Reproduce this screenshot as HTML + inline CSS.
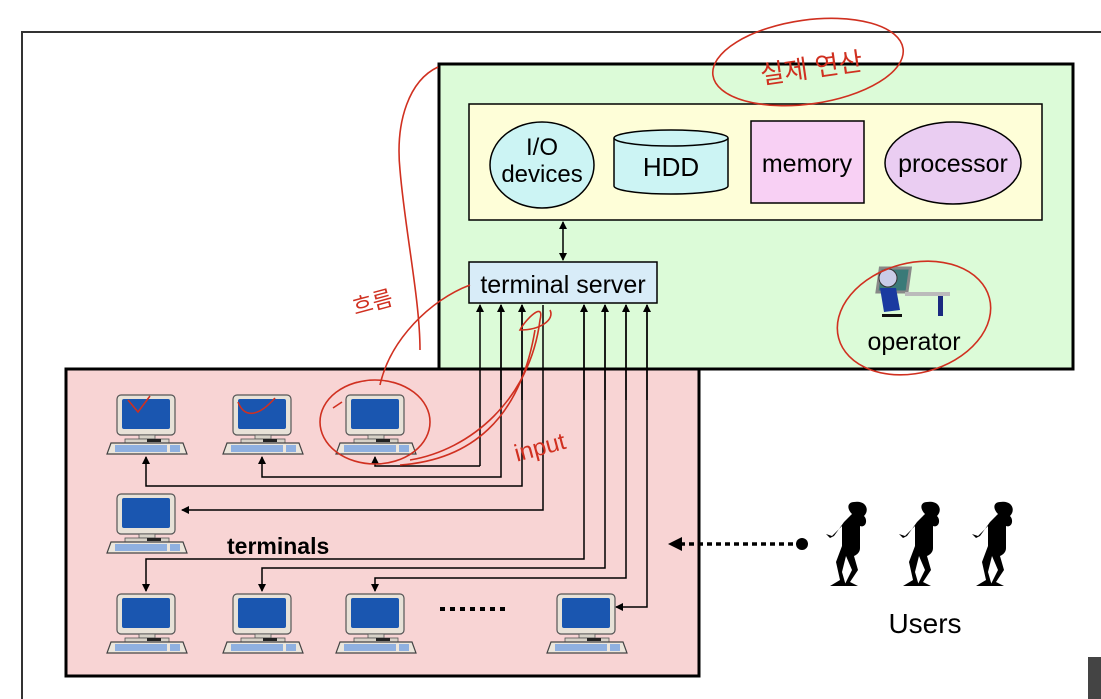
<!DOCTYPE html>
<html><head><meta charset="utf-8"><style>
html,body{margin:0;padding:0;background:#fff;}
svg{display:block;}
text{font-family:"Liberation Sans","Noto Sans CJK KR",sans-serif;}
</style></head><body>
<svg width="1101" height="699" viewBox="0 0 1101 699" xmlns="http://www.w3.org/2000/svg">
<defs>
<marker id="ah" markerWidth="8" markerHeight="8" refX="7" refY="4" orient="auto" markerUnits="userSpaceOnUse">
<path d="M0,0 L8,4 L0,8 z" fill="#000"/></marker>
<marker id="ah2" markerWidth="8" markerHeight="8" refX="1" refY="4" orient="auto" markerUnits="userSpaceOnUse">
<path d="M8,0 L0,4 L8,8 z" fill="#000"/></marker>
<symbol id="pc" viewBox="0 0 84 62">
<rect x="12" y="1" width="58" height="40" rx="4" fill="#e8e2d8" stroke="#555" stroke-width="1.2"/>
<rect x="17" y="5" width="48" height="30" rx="2" fill="#1a56b0"/>
<rect x="34" y="41" width="16" height="4" fill="#d8d2c8" stroke="#555" stroke-width="0.8"/>
<rect x="20" y="45" width="44" height="4" fill="#d8d2c8" stroke="#555" stroke-width="0.8"/>
<rect x="42" y="45" width="14" height="3" fill="#222"/>
<path d="M6,49 L78,49 L82,60 L2,60 z" fill="#ece6dc" stroke="#444" stroke-width="1.2"/>
<rect x="10" y="51" width="52" height="7" fill="#8fb0e0"/>
<rect x="65" y="51" width="10" height="7" fill="#8fb0e0"/>
</symbol>
<symbol id="user" viewBox="0 0 60 90">
<path d="M30,2 C42,0 46,10 40,16 C44,20 42,28 36,26 L36,48 C36,54 30,56 30,56 L34,70 L26,82 L34,86 L20,86 L28,70 L22,56 L18,72 L22,86 L6,86 L16,80 L12,62 L18,46 L18,26 L8,36 L2,34 L6,38 L10,36 L20,22 C24,18 26,16 28,14 C22,8 24,2 30,2 z" fill="#000"/>
</symbol>
</defs>

<!-- outer frame -->
<path d="M22,699 L22,32 L1101,32" fill="none" stroke="#333" stroke-width="2"/>

<!-- green box -->
<rect x="439" y="64" width="634" height="305" fill="#dcfbd8" stroke="#000" stroke-width="3"/>
<rect x="469" y="104" width="573" height="116" fill="#fefed8" stroke="#000" stroke-width="1.5"/>
<ellipse cx="542" cy="165" rx="52" ry="43" fill="#ccf4f4" stroke="#000" stroke-width="1.5"/>
<text x="542" y="155" font-size="24" text-anchor="middle">I/O</text>
<text x="542" y="182" font-size="24" text-anchor="middle">devices</text>
<path d="M614,138 L614,186 A57,8 0 0 0 728,186 L728,138" fill="#ccf4f4" stroke="#000" stroke-width="1.5"/>
<ellipse cx="671" cy="138" rx="57" ry="8" fill="#ccf4f4" stroke="#000" stroke-width="1.5"/>
<text x="671" y="176" font-size="26" text-anchor="middle">HDD</text>
<rect x="751" y="121" width="113" height="82" fill="#f8d0f4" stroke="#000" stroke-width="1.5"/>
<text x="807" y="172" font-size="25" text-anchor="middle">memory</text>
<ellipse cx="953" cy="163" rx="68" ry="41" fill="#eacdf2" stroke="#000" stroke-width="1.5"/>
<text x="953" y="172" font-size="25" text-anchor="middle">processor</text>

<line x1="563" y1="222" x2="563" y2="260" stroke="#000" stroke-width="1.5" marker-start="url(#ah2)" marker-end="url(#ah)"/>
<rect x="469" y="262" width="188" height="41" fill="#d8ecf8" stroke="#000" stroke-width="1.5"/>
<text x="563" y="293" font-size="25" text-anchor="middle">terminal server</text>

<!-- operator -->
<g>
<rect x="918" y="268" width="30" height="24" fill="#3a7a78" stroke="#888" stroke-width="3" transform="skewX(-8)"/>
<rect x="905" y="292" width="45" height="4" fill="#bbb"/>
<rect x="938" y="296" width="5" height="20" fill="#1a2a80"/>
<circle cx="888" cy="278" r="9" fill="#c8cce8" stroke="#333"/>
<path d="M880,288 L896,288 L900,310 L884,312 z" fill="#1a3aa0"/>
<rect x="882" y="314" width="20" height="3" fill="#111"/>
</g>
<text x="914" y="350" font-size="25" text-anchor="middle">operator</text>

<!-- red box -->
<rect x="66" y="369" width="633" height="307" fill="#f8d4d4" stroke="#000" stroke-width="3"/>

<!-- connectors -->
<g fill="none" stroke="#000" stroke-width="1.5">
<path d="M480,466 L480,305" marker-end="url(#ah)"/>
<path d="M480,466 L375,466 L375,457" marker-end="url(#ah)"/>
<path d="M501,305 L501,477 L262,477 L262,457" marker-end="url(#ah)"/>
<line x1="501" y1="400" x2="501" y2="305" marker-end="url(#ah)"/>
<path d="M522,305 L522,486 L146,486 L146,457" marker-end="url(#ah)"/>
<line x1="522" y1="400" x2="522" y2="305" marker-end="url(#ah)"/>
<path d="M543,305 L543,510 L182,510" marker-end="url(#ah)"/>
<path d="M584,305 L584,559 L146,559 L146,591" marker-end="url(#ah)"/>
<line x1="584" y1="400" x2="584" y2="305" marker-end="url(#ah)"/>
<path d="M605,305 L605,568 L262,568 L262,591" marker-end="url(#ah)"/>
<line x1="605" y1="400" x2="605" y2="305" marker-end="url(#ah)"/>
<path d="M626,305 L626,578 L375,578 L375,591" marker-end="url(#ah)"/>
<line x1="626" y1="400" x2="626" y2="305" marker-end="url(#ah)"/>
<path d="M647,305 L647,607 L616,607" marker-end="url(#ah)"/>
<line x1="647" y1="400" x2="647" y2="305" marker-end="url(#ah)"/>
</g>

<!-- computers -->
<use href="#pc" x="105" y="394" width="84" height="62"/>
<use href="#pc" x="221" y="394" width="84" height="62"/>
<use href="#pc" x="334" y="394" width="84" height="62"/>
<use href="#pc" x="105" y="493" width="84" height="62"/>
<use href="#pc" x="105" y="593" width="84" height="62"/>
<use href="#pc" x="221" y="593" width="84" height="62"/>
<use href="#pc" x="334" y="593" width="84" height="62"/>
<use href="#pc" x="545" y="593" width="84" height="62"/>

<text x="227" y="554" font-size="23" font-weight="bold">terminals</text>
<line x1="440" y1="609" x2="508" y2="609" stroke="#000" stroke-width="4" stroke-dasharray="5,5"/>

<!-- users -->
<line x1="802" y1="544" x2="674" y2="544" stroke="#000" stroke-width="3.5" stroke-dasharray="5,4"/>
<path d="M668,544 L682,537 L682,551 z" fill="#000"/>
<circle cx="802" cy="544" r="6" fill="#000"/>
<use href="#user" x="824" y="500" width="60" height="90"/>
<use href="#user" x="897" y="500" width="60" height="90"/>
<use href="#user" x="970" y="500" width="60" height="90"/>
<text x="925" y="633" font-size="28" text-anchor="middle">Users</text>

<rect x="1088" y="657" width="13" height="42" fill="#444"/>

<!-- red annotations -->
<g fill="none" stroke="#d03020" stroke-width="1.6">
<ellipse cx="808" cy="62" rx="96" ry="42" transform="rotate(-8 808 62)"/>
<ellipse cx="914" cy="318" rx="78" ry="55" transform="rotate(-15 914 318)"/>
<ellipse cx="375" cy="422" rx="55" ry="42"/>
<path d="M438,67 C410,80 395,120 400,170 C405,230 420,300 420,350"/>
<path d="M470,285 C430,300 390,340 380,385"/>
<path d="M410,460 C470,450 530,400 540,320 C545,300 525,320 520,330 C540,330 555,320 550,310"/>
<path d="M400,465 C470,460 520,420 535,330"/>
<path d="M128,400 L138,412 L150,396"/>
<path d="M238,402 C245,420 260,415 275,398"/>
<path d="M333,408 L342,402"/>
</g>
<text x="760" y="80" font-size="26" fill="#d03020" font-family="Noto Sans CJK KR, sans-serif" transform="rotate(-8 790 70)">실제 연산</text>
<text x="352" y="308" font-size="22" fill="#d03020" font-family="Noto Sans CJK KR, sans-serif" transform="rotate(-15 380 300)">흐름</text>
<text x="512" y="455" font-size="24" fill="#d03020" transform="rotate(-15 540 440)">input</text>
</svg>
</body></html>
